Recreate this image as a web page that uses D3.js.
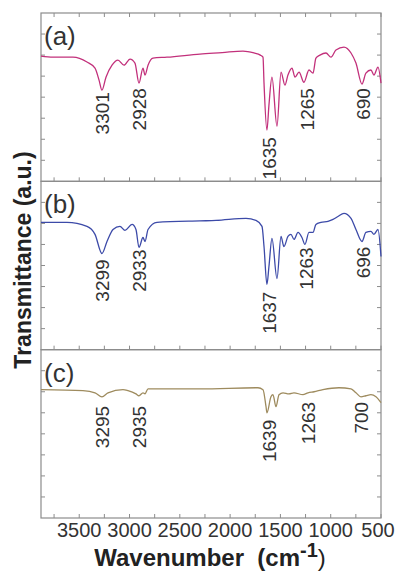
<!DOCTYPE html>
<html>
<head>
<meta charset="utf-8">
<script src="https://cdn.jsdelivr.net/npm/d3@7"></script>
<style>
  body { margin: 0; background: #fff; }
  svg { display: block; font-family: Arial, "Liberation Sans", sans-serif; }
</style>
</head>
<body>
<svg id="ftir" width="396" height="571"></svg>
<script>
// wavenumbers (cm-1) and transmittance (a.u.)
var wnA = [3880, 3761, 3562, 3423, 3343, 3303, 3274, 3234, 3174, 3115, 3055, 2995, 2946, 2906, 2866, 2846, 2816, 2767, 2628, 2300, 2080, 1872, 1763, 1700, 1673, 1663, 1634, 1614, 1584, 1534, 1494, 1455, 1425, 1385, 1355, 1315, 1266, 1216, 1176, 1147, 1107, 1047, 997, 948, 868, 798, 749, 689, 650, 600, 570, 530, 500];
var tA  = [5.95, 5.90, 5.90, 5.67, 5.38, 4.81, 4.33, 4.95, 5.52, 5.76, 5.52, 5.81, 5.62, 4.67, 5.38, 5.05, 5.52, 5.86, 5.90, 6.05, 6.12, 6.19, 6.10, 6.00, 5.90, 4.67, 2.43, 3.62, 4.95, 2.62, 5.19, 4.57, 5.05, 5.38, 4.95, 5.19, 4.71, 5.29, 5.14, 5.86, 6.00, 6.10, 5.90, 6.24, 6.38, 6.10, 5.62, 4.62, 5.14, 5.29, 5.05, 5.43, 4.67];

var wnB = [3880, 3622, 3423, 3343, 3274, 3224, 3164, 3095, 3045, 2975, 2936, 2906, 2866, 2846, 2816, 2727, 2300, 2140, 1842, 1743, 1683, 1663, 1634, 1614, 1584, 1534, 1494, 1465, 1425, 1395, 1365, 1325, 1286, 1256, 1216, 1176, 1147, 1097, 1027, 977, 928, 868, 798, 749, 689, 650, 600, 570, 530, 500];
var tB  = [6.05, 6.05, 5.86, 5.48, 4.57, 5.14, 5.71, 5.86, 5.67, 5.95, 5.71, 4.86, 5.33, 5.14, 5.71, 6.05, 6.12, 6.14, 6.24, 6.14, 5.86, 4.90, 3.10, 3.95, 5.29, 3.38, 5.38, 4.90, 5.38, 5.48, 5.24, 5.57, 5.33, 5.00, 5.57, 5.57, 5.95, 6.05, 6.10, 6.19, 6.33, 6.48, 6.24, 5.71, 5.14, 5.57, 5.62, 5.48, 5.71, 4.43];

var wnC = [3880, 3463, 3343, 3274, 3214, 3065, 3015, 2936, 2906, 2866, 2846, 2816, 2300, 1723, 1673, 1643, 1634, 1594, 1574, 1544, 1514, 1474, 1415, 1365, 1276, 1226, 1166, 1077, 918, 798, 749, 699, 650, 600, 550, 500];
var tC  = [6.10, 6.05, 5.95, 5.76, 5.95, 6.10, 6.05, 5.90, 5.81, 5.95, 5.90, 6.14, 6.14, 6.19, 6.10, 5.29, 5.00, 5.76, 5.86, 5.29, 5.86, 5.95, 5.90, 5.95, 5.86, 5.95, 6.00, 6.10, 6.19, 6.14, 5.95, 5.76, 5.81, 5.86, 5.76, 5.48];

// peak labels: text, position (cm-1), top of label (a.u.)
var peaksA = ["3301", "2928", "1635", "1265", "690"];
var peakWnA = [3274, 2906, 1614, 1236, 679];
var peakTopA = [4.24, 4.43, 2.10, 4.43, 4.43];
var peaksB = ["3299", "2933", "1637", "1263", "696"];
var peakWnB = [3274, 2906, 1614, 1246, 679];
var peakTopB = [4.29, 4.76, 2.76, 4.86, 4.90];
var peaksC = ["3295", "2935", "1639", "1263", "700"];
var peakWnC = [3274, 2906, 1614, 1226, 699];
var peakTopC = [5.33, 5.33, 4.67, 5.52, 5.52];

var panelNames = ["(a)", "(b)", "(c)"];
var colors = ["#c2307b", "#3c4aa8", "#9e8b5e"];
var xTicks = [3500, 3000, 2500, 2000, 1500, 1000, 500];

var svg = d3.select("#ftir");
var plotL = 41, plotR = 381, plotT = 13, plotB = 518;
var ph = (plotB - plotT) / 3;
var frameCol = "#8c8c8c", textCol = "#333";

var x = d3.scaleLinear().domain([3880, 500]).range([plotL, plotR]);
var minorX = d3.range(3750, 499, -250);

var panels = [
  {wn: wnA, t: tA, pk: peaksA, pw: peakWnA, pt: peakTopA},
  {wn: wnB, t: tB, pk: peaksB, pw: peakWnB, pt: peakTopB},
  {wn: wnC, t: tC, pk: peaksC, pw: peakWnC, pt: peakTopC}
];

panels.forEach(function(p, i) {
  var y0 = plotT + i * ph;
  var y = d3.scaleLinear().domain([0, 8]).range([y0 + ph, y0]);
  var g = svg.append("g");

  // inward ticks
  var yt = d3.range(1, 8);
  g.selectAll(".yl").data(yt).join("line")
    .attr("x1", plotL).attr("x2", plotL + 4)
    .attr("y1", function(d) { return y(d); }).attr("y2", function(d) { return y(d); })
    .attr("stroke", frameCol);
  g.selectAll(".yr").data(yt).join("line")
    .attr("x1", plotR).attr("x2", plotR - 4)
    .attr("y1", function(d) { return y(d); }).attr("y2", function(d) { return y(d); })
    .attr("stroke", frameCol);
  g.selectAll(".xb").data(minorX).join("line")
    .attr("x1", function(d) { return x(d); }).attr("x2", function(d) { return x(d); })
    .attr("y1", y0 + ph).attr("y2", y0 + ph - 4)
    .attr("stroke", frameCol);
  if (i == 0) {
    g.selectAll(".xt").data(minorX).join("line")
      .attr("x1", function(d) { return x(d); }).attr("x2", function(d) { return x(d); })
      .attr("y1", y0).attr("y2", y0 + 4)
      .attr("stroke", frameCol);
  }

  g.append("rect")
    .attr("x", plotL).attr("y", y0).attr("width", plotR - plotL).attr("height", ph)
    .attr("fill", "none").attr("stroke", frameCol).attr("stroke-width", 1.2);

  var line = d3.line()
    .x(function(d, k) { return x(p.wn[k]); })
    .y(function(d, k) { return y(p.t[k]); })
    .curve(d3.curveMonotoneX);
  g.append("path")
    .attr("d", line(p.wn))
    .attr("fill", "none").attr("stroke", colors[i]).attr("stroke-width", 1.3);

  g.append("text")
    .attr("x", plotL + 3).attr("y", y0 + 32)
    .attr("font-size", 26).attr("fill", textCol)
    .text(panelNames[i]);

  g.selectAll(".pk").data(p.pk).join("text")
    .attr("transform", function(d, k) {
      return "translate(" + x(p.pw[k]) + "," + y(p.pt[k]) + ") rotate(-90)";
    })
    .attr("dy", "0.35em")
    .attr("text-anchor", "end")
    .attr("font-size", 19).attr("fill", textCol)
    .text(function(d) { return d; });
});

// last label sits against the right edge, as in the original
svg.selectAll(".xlab").data(xTicks).join("text")
  .attr("x", function(d) { return Math.min(x(d), 378); }).attr("y", 537)
  .attr("text-anchor", "middle")
  .attr("font-size", 20).attr("fill", textCol)
  .text(function(d) { return d; });

var xt = svg.append("text")
  .attr("x", 210).attr("y", 566)
  .attr("text-anchor", "middle")
  .attr("font-size", 24).attr("font-weight", "bold").attr("fill", "#222")
  .attr("xml:space", "preserve");
xt.append("tspan").text("Wavenumber  (cm");
xt.append("tspan").attr("dy", -9).attr("font-size", 20).text("-1");
xt.append("tspan").attr("dy", 9).attr("font-weight", "normal").text(")");

svg.append("text")
  .attr("transform", "translate(31,260) rotate(-90)")
  .attr("text-anchor", "middle")
  .attr("font-size", 23).attr("font-weight", "bold").attr("fill", "#222")
  .text("Transmittance (a.u.)");
</script>
</body>
</html>
